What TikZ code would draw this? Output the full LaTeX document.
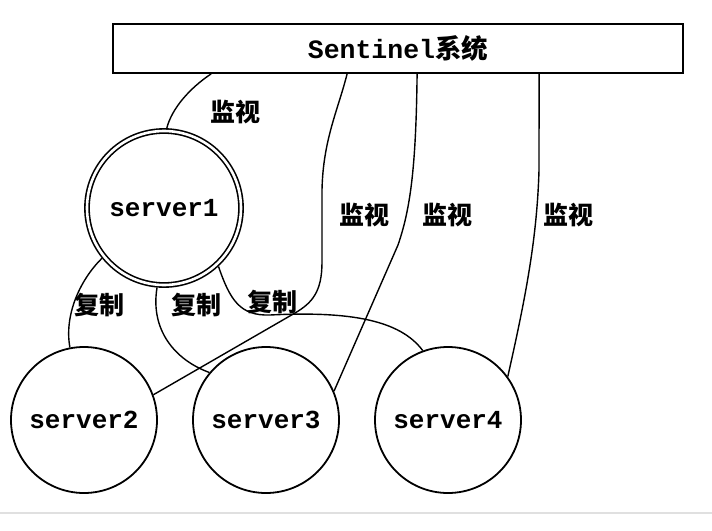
\documentclass[tikz,border=0pt]{standalone}
\usepackage{fontspec}
\setmonofont{Liberation Mono}
\newfontfamily\cjk{Noto Sans CJK SC}
\begin{document}
\begin{tikzpicture}[x=1pt,y=-1pt,
  srv/.style={circle, draw, line width=1.8pt, minimum size=146pt, inner sep=0pt, outer sep=0.9pt,
    font=\ttfamily\bfseries\fontsize{26}{26}\selectfont},
  srvmain/.style={circle, draw, double, double distance=2.6pt, line width=1.6pt, minimum size=154pt,
    inner sep=0pt, outer sep=2.9pt, font=\ttfamily\bfseries\fontsize{26}{26}\selectfont},
  sysbox/.style={draw, line width=1.8pt, minimum width=570pt, minimum height=49pt, inner sep=0pt},
  lbl/.style={font=\cjk\bfseries\fontsize{25}{25}\selectfont, inner sep=0pt},
  conn/.style={line width=1.4pt}
]
\useasboundingbox (0,0) rectangle (712,530);
\draw[black!12, line width=1.2pt] (0,513) -- (712,513);

\node[sysbox] (sys) at (398,48.5) {\ttfamily\bfseries\fontsize{26.5}{26.5}\selectfont Sentinel{\cjk\bfseries 系统}};

\node[srvmain] (s1) at (164,208) {server1};
\node[srv] (s2) at (84,420) {server2};
\node[srv] (s3) at (266,420) {server3};
\node[srv] (s4) at (448,420) {server4};

% monitoring connectors
\draw[conn] ([xshift=99pt]sys.south west) .. controls (190,88) and (172,108) .. (s1.88);
\draw[conn] ([xshift=235pt]sys.south west) .. controls (338,110) and (323,140) .. (322,190)
  -- (322,262) .. controls (322,292) and (312,303) .. (295,313) -- (s2.20);
\draw[conn] ([xshift=305pt]sys.south west) .. controls (416,170) and (410,210) .. (398,245) -- (s3.23);
\draw[conn] ([xshift=427pt]sys.south west) -- (539,170) .. controls (537,240) and (525,300) .. (s4.36);

% replication connectors
\draw[conn] (s1.219) .. controls (80,280) and (64,315) .. (s2.101);
\draw[conn] (s1.265) .. controls (150,330) and (175,360) .. (s3.140);
\draw[conn] (s1.313) .. controls (230,300) and (240,316) .. (270,315)
  .. controls (350,311) and (400,320) .. (s4.110);

% labels
\node[lbl] (m1) at (235,112) {监视};
\node[lbl] (m2) at (364,215) {监视};
\node[lbl] (m3) at (447,215) {监视};
\node[lbl] (m4) at (568,215) {监视};
\node[lbl] (r1) at (99,305) {复制};
\node[lbl] (r2) at (196,305) {复制};
\node[lbl] (r3) at (272,302) {复制};
\end{tikzpicture}
\end{document}
